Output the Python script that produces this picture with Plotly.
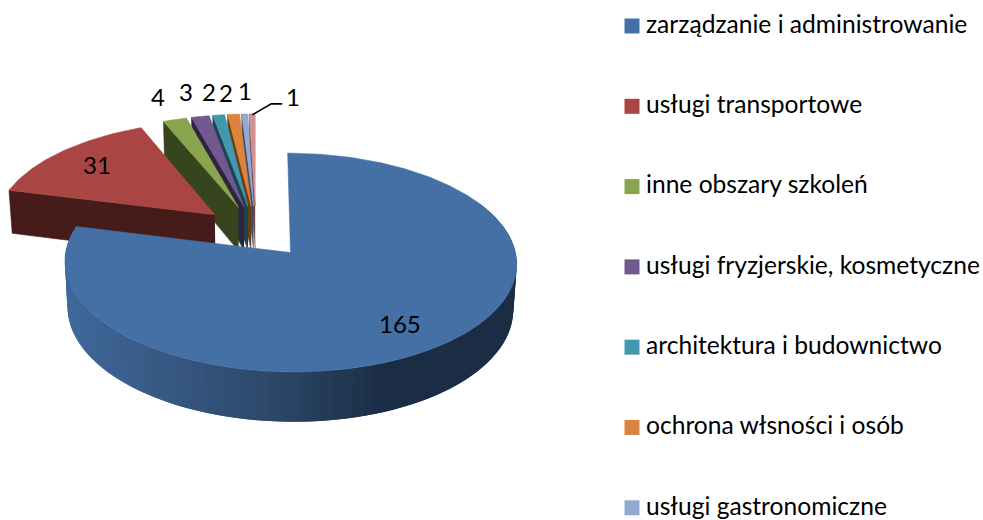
import numpy as np
import plotly.graph_objects as go

categories = ["zarządzanie i administrowanie", "usługi transportowe", "inne obszary szkoleń",
              "usługi fryzjerskie, kosmetyczne", "architektura i budownictwo",
              "ochrona włsności i osób", "usługi gastronomiczne", ""]
values = [165, 31, 4, 3, 2, 2, 1, 1]
top_colors = ["#4470A6", "#A94543", "#89A54E", "#71588F", "#4198AF", "#DB843D", "#93A9CF", "#D19392"]
wall_colors = ["#2B4769", "#451C19", "#37451E", "#2E2340", "#1B4450", "#6A3C14", "#3D4E6A", "#6A4544"]

# projection of the tilted pie onto the page (in page pixels)
CX, CY, A, B, P, DEPTH = 256.0, 231.6, 221.0, 104.7, 0.089, 44.6
EX, EY = 0.25, 0.25
FONT = "Lato"
FS_LABEL = 24
FS_LEGEND = 24.6


def project(X, Y, z=0.0):
    X, Y = np.asarray(X, float), np.asarray(Y, float)
    s = 1 / (1 + P * Y)
    return CX + A * X * s * (1 - 0.013 * z), CY - B * Y * s + DEPTH * z * s


total = sum(values)
edges = np.concatenate([[0], np.cumsum(values)]) / total * 2 * np.pi
fig = go.Figure()


def poly(x, y, color, width=0.6):
    fig.add_trace(go.Scatter(x=list(x), y=list(y), mode="lines", fill="toself", fillcolor=color,
                             line=dict(color=color, width=width), hoverinfo="skip", showlegend=False))


def tip(i):
    mid = (edges[i] + edges[i + 1]) / 2
    return EX * np.sin(mid), EY * np.cos(mid)


# back-to-front: smallest slices first, the large blue slice last
for i in range(len(values) - 1, -1, -1):
    tx, ty = tip(i)
    a0, a1 = edges[i], edges[i + 1]
    if i == 0:
        # outer wall of the big slice, shaded left to right; strips overlap to hide seams
        arc = np.radians(np.linspace(60, np.degrees(a1), 90))
        for k in range(len(arc) - 2, -1, -1):
            u, v = arc[k], arc[min(k + 2, len(arc) - 1)]
            xs = np.array([tx + np.sin(u), tx + np.sin(v)])
            ys = np.array([ty + np.cos(u), ty + np.cos(v)])
            x0, y0 = project(xs, ys)
            x1, y1 = project(xs, ys, 1.0)
            m = x0[0]
            c = [np.interp(m, [65, 290, 400], ch) for ch in ([0x41, 0x2C, 0x1B], [0x69, 0x48, 0x2D], [0x9C, 0x69, 0x45])]
            poly([x0[0], x0[1], x1[1], x1[0]], [y0[0], y0[1], y1[1], y1[0]],
                 f"rgb({c[0]:.0f},{c[1]:.0f},{c[2]:.0f})", width=0)
    else:
        # radial wall on the leading edge of each exploded slice
        ex, ey = tx + np.sin(a0), ty + np.cos(a0)
        p0 = project([tx, ex], [ty, ey])
        p1 = project([ex, tx], [ey, ty], 1.0)
        poly(np.r_[p0[0], p1[0]], np.r_[p0[1], p1[1]], wall_colors[i])
    # top face
    t = np.linspace(a0, a1, max(6, int((a1 - a0) * 60)))
    px, py = project(np.r_[tx, tx + np.sin(t)], np.r_[ty, ty + np.cos(t)])
    poly(np.r_[px, px[0]], np.r_[py, py[0]], top_colors[i])

# data labels, placed from each slice's bisector and nudged in pixels
label_radius = [0.62, 0.62, 1.25, 1.3, 1.3, 1.3, 1.3, 1.15]
label_shift = [(18, -15), (-21, 10), (-2, 3), (-2, 1), (-2, -1), (-3, -3), (3, -1), (41, 5)]
for i, val in enumerate(values):
    tx, ty = tip(i)
    mid = (edges[i] + edges[i + 1]) / 2
    lx, ly = project(tx + label_radius[i] * np.sin(mid), ty + label_radius[i] * np.cos(mid))
    fig.add_annotation(x=float(lx), y=float(ly), text=str(val), showarrow=False,
                       xshift=label_shift[i][0], yshift=label_shift[i][1],
                       font=dict(family=FONT, size=FS_LABEL, color="#000000"))

# leader line from the last slice's rim to its label
tx, ty = tip(7)
mid = (edges[7] + edges[8]) / 2
rx, ry = project(tx + np.sin(mid), ty + np.cos(mid))
fig.add_trace(go.Scatter(x=[float(rx), float(rx) + 19, float(rx) + 30],
                         y=[float(ry) + 1, float(ry) - 10, float(ry) - 10],
                         mode="lines", line=dict(color="#000000", width=1.6),
                         hoverinfo="skip", showlegend=False))

# legend column
legend_names = categories[:7]
legend_y = [26 + 80.3 * k for k in range(len(legend_names))]
fig.add_trace(go.Scatter(x=[632] * len(legend_names), y=legend_y, mode="markers",
                         marker=dict(symbol="square", size=15, color=top_colors[:7], line=dict(width=0)),
                         hoverinfo="skip", showlegend=False))
fig.add_trace(go.Scatter(x=[646] * len(legend_names), y=[v + 0.7 for v in legend_y], mode="text",
                         text=legend_names, textposition="middle right",
                         textfont=dict(family=FONT, size=FS_LEGEND, color="#000000"),
                         hoverinfo="skip", showlegend=False, cliponaxis=False))

fig.update_layout(width=983, height=520, margin=dict(l=0, r=0, t=0, b=0), paper_bgcolor="white",
                  plot_bgcolor="white", showlegend=False,
                  xaxis=dict(range=[0, 983], visible=False, fixedrange=True),
                  yaxis=dict(range=[520, 0], visible=False, fixedrange=True))
fig.write_html("out.html", config={"displayModeBar": False},
               post_script="document.body.style.margin='0';document.body.style.overflow='hidden';")
